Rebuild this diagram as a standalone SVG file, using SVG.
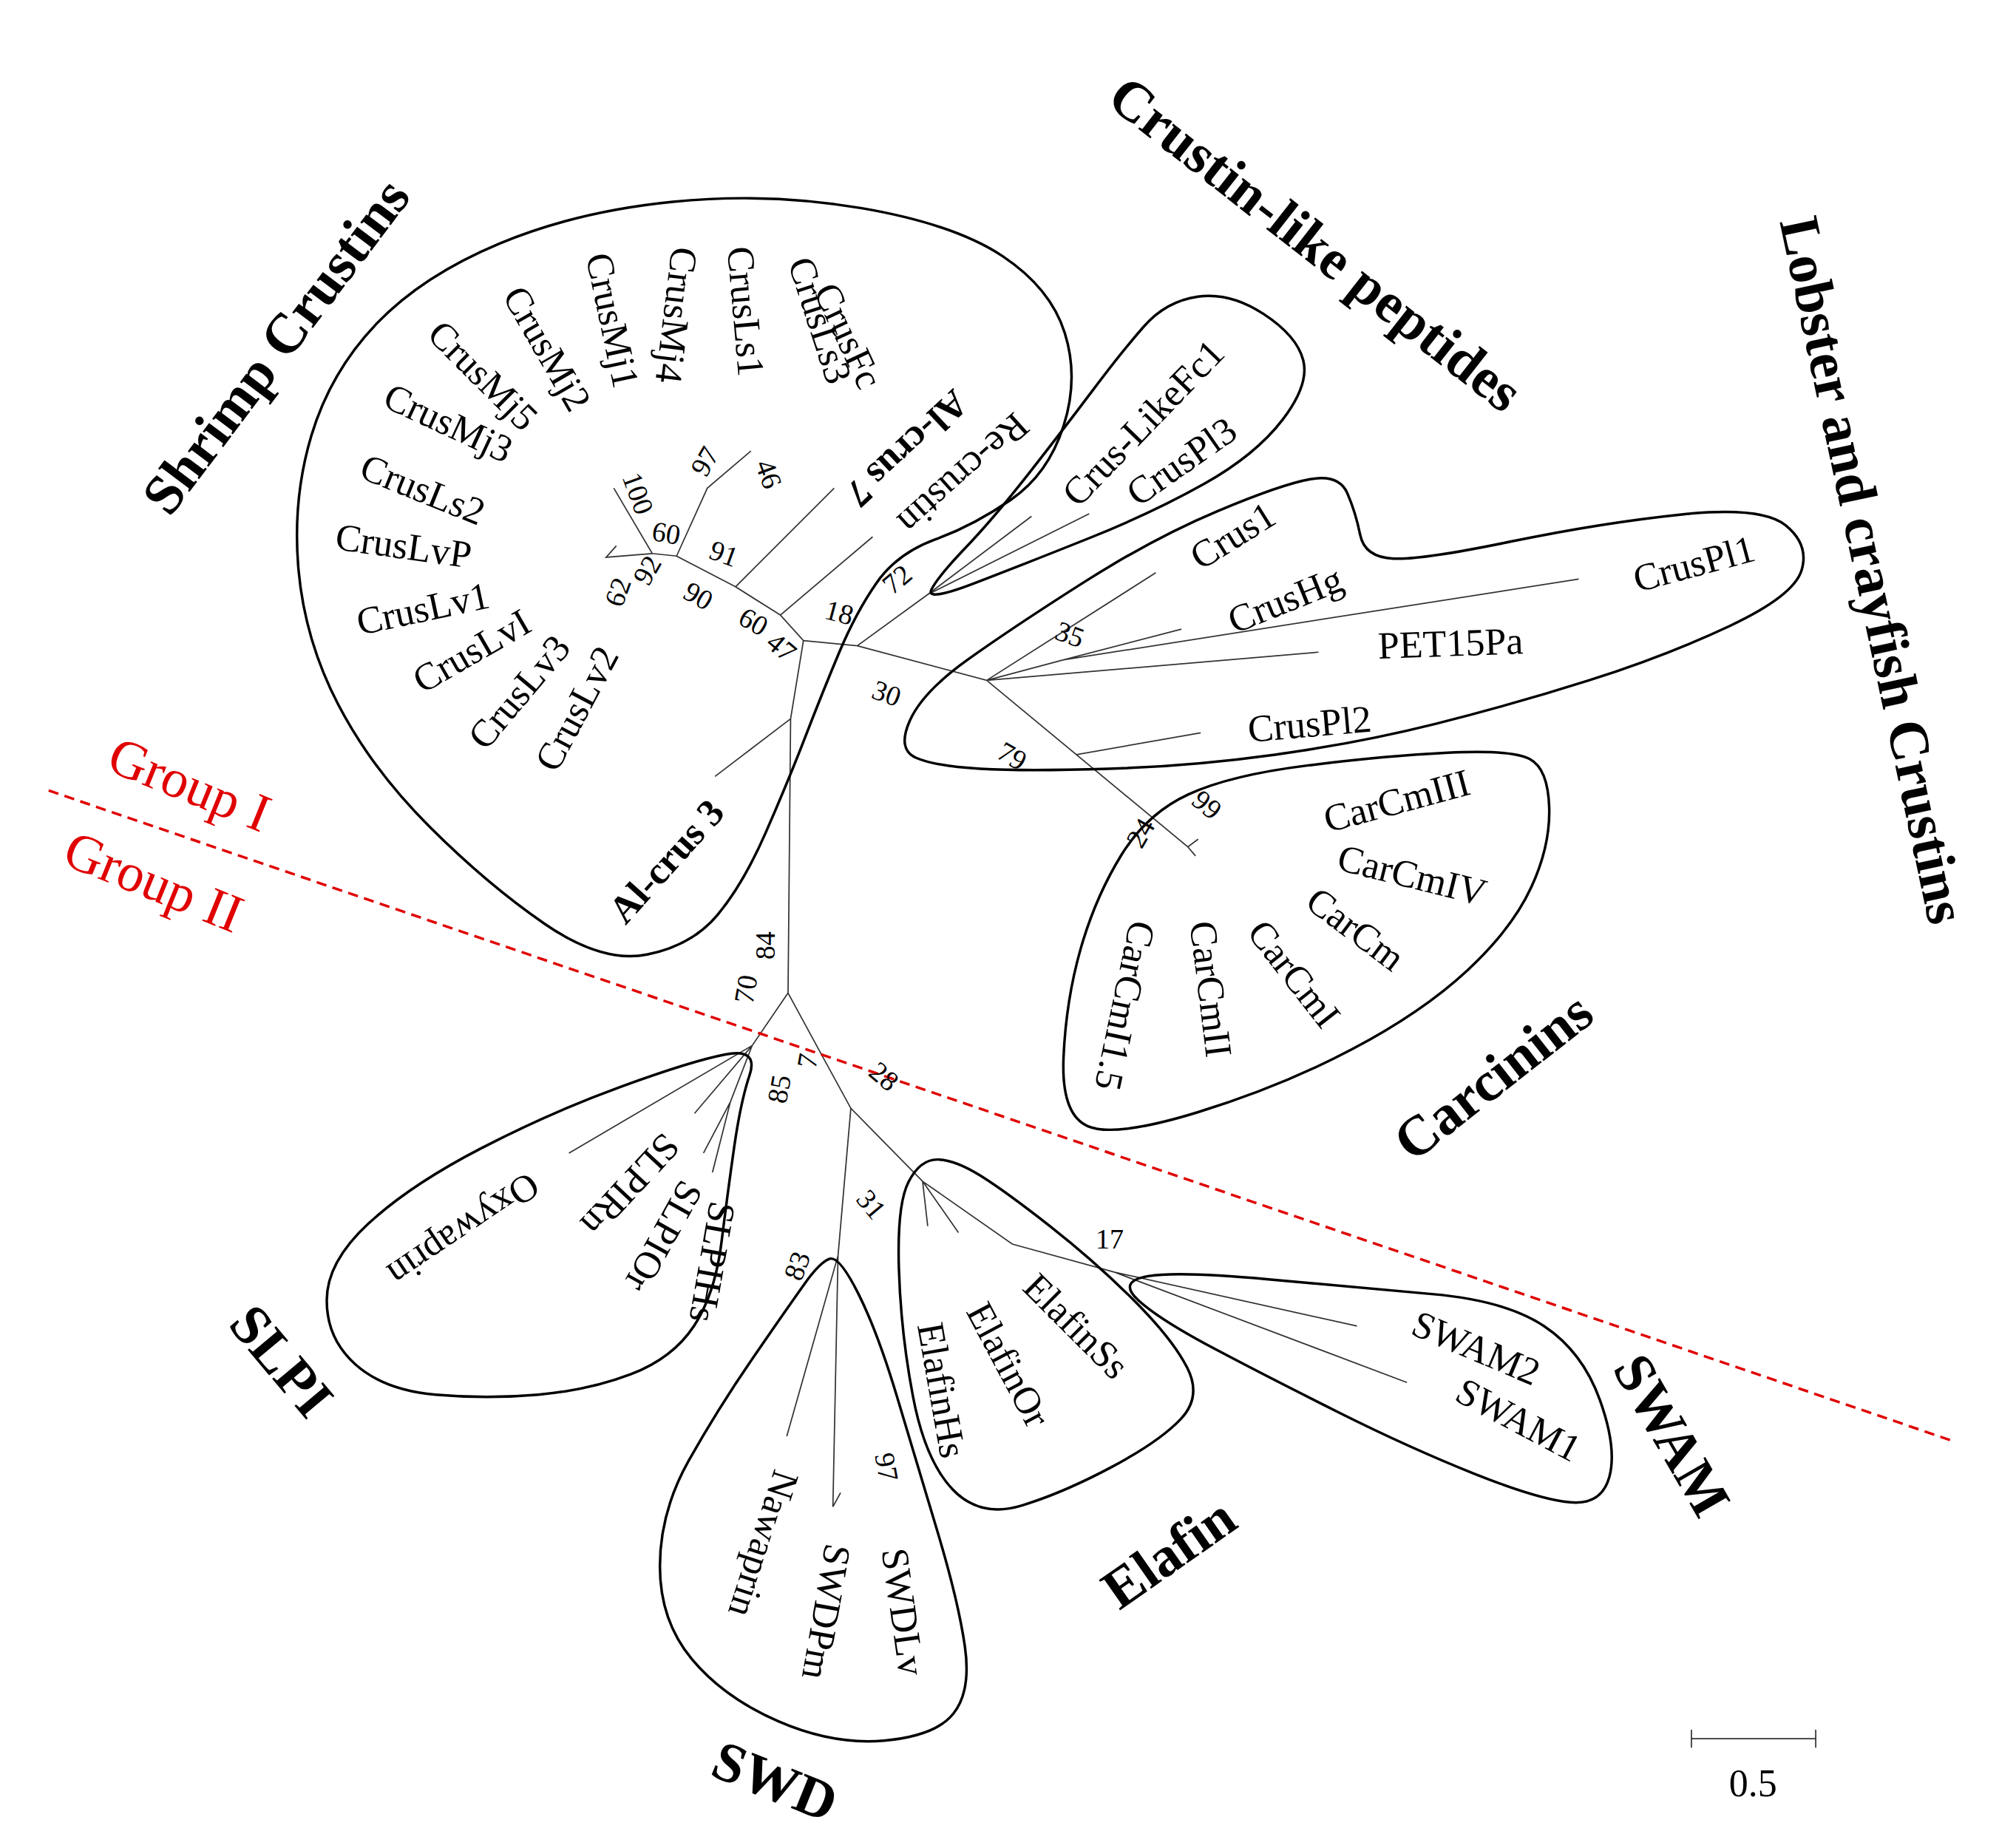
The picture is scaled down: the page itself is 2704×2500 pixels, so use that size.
<svg xmlns="http://www.w3.org/2000/svg" width="2704" height="2500" viewBox="0 0 2704 2500">
<style>
.h{fill:none;stroke:#000;stroke-width:2}
.t{stroke:#333;stroke-width:1;fill:none}
.l{font-family:"Liberation Serif",serif;font-size:30px;fill:#000;text-anchor:middle;dominant-baseline:central}
.b{font-family:"Liberation Serif",serif;font-size:22px;fill:#000;text-anchor:middle;dominant-baseline:central}
.k{font-family:"Liberation Serif",serif;font-size:44px;font-weight:bold;fill:#000;text-anchor:middle;dominant-baseline:central}
.kb{font-family:"Liberation Serif",serif;font-size:30px;font-weight:bold;fill:#000;text-anchor:middle;dominant-baseline:central}
.r{font-family:"Liberation Serif",serif;font-size:42px;fill:#e00000;text-anchor:middle;dominant-baseline:central}
</style>
<rect width="2704" height="2500" fill="#fff"/>
<g transform="scale(1.7333)">
<g id="connectors">
<path class="t" d="M615,775L617,561L627,500M617,561L558,606M627,500L609,480L681,419M609,480L574,458L651,381M574,458L528,434L552,381L586,352M528,434L509,432L479,381M509,432L473,435L481,426M627,500L669,504L724,464L805,403M724,464L850,401M669,504L770,531L902,447M770,531L830,515L922,491M830,515L1232,452M770,531L1029,509M770,531L927,661L935,655M927,661L933,668M840,589L937,572"/>
<path class="t" d="M615,775L587,816L444,900M587,816L542,869M587,816L570,860L549,900M570,860L556,915M615,775L640,821L664,865L720,922M664,865L654,980L650,1176L656,1165M654,980L614,1121M720,922L724,957M720,922L748,962M720,922L790,971L870,993L1059,1035M870,993L1098,1079"/>
<line x1="38" y1="617" x2="1525" y2="1125" stroke="#e00000" stroke-width="2" stroke-dasharray="8,5"/>
</g>
<g id="shrimp">
<path class="h" d="M505,745 Q470,752 425,721 Q380,690 335,645 Q290,600 264,550 Q238,500 233,445 Q228,390 243,340 Q258,290 294,252.5 Q330,215 390,190 Q450,165 525,157.5 Q600,150 672.5,162.5 Q745,175 782.5,200 Q820,225 831,260 Q842,295 830,332.5 Q818,370 789,390 Q760,410 730,421 Q700,432 684,455 Q668,478 655,509 Q642,540 628.5,575 Q615,610 597.5,650 Q580,690 560,714 Q540,738 505,745 Z"/>
<text class="k" transform="translate(215,270) rotate(-53)">Shrimp Crustins</text>
<text class="l" transform="translate(662,262) rotate(65)">CrusFc</text>
<text class="l" transform="translate(640,250) rotate(72)">CrusLs3</text>
<text class="l" transform="translate(582,243) rotate(85)">CrusLs1</text>
<text class="l" transform="translate(528,246) rotate(97)">CrusMj4</text>
<text class="l" transform="translate(478,250) rotate(78)">CrusMj1</text>
<text class="l" transform="translate(427,272) rotate(60)">CrusMj2</text>
<text class="l" transform="translate(377,293) rotate(45)">CrusMj5</text>
<text class="l" transform="translate(350,330) rotate(25)">CrusMj3</text>
<text class="l" transform="translate(330,382) rotate(22)">CrusLs2</text>
<text class="l" transform="translate(315,426) rotate(8)">CrusLvP</text>
<text class="l" transform="translate(330,475) rotate(-12)">CrusLv1</text>
<text class="l" transform="translate(368,508) rotate(-30)">CrusLvI</text>
<text class="l" transform="translate(405,540) rotate(-50)">CrusLv3</text>
<text class="l" transform="translate(450,553) rotate(-62)">CrusLv2</text>
<text class="kb" transform="translate(708,350) rotate(137)">Al-crus 7</text>
<text class="l" transform="translate(752,370) rotate(138)">Re-crustin</text>
<text class="kb" transform="translate(520,672) rotate(-48)">Al-crus 3</text>
</g>
<g id="crustinlike">
<path class="h" d="M727,460 Q722,470 761,455 Q800,440 850,420 Q900,400 940,377.5 Q980,355 1001,327.5 Q1022,300 1017,281 Q1012,262 986,245 Q960,228 935,231.5 Q910,235 892.5,255 Q875,275 852.5,305 Q830,335 802.5,370 Q775,405 753.5,427.5 Q732,450 727,460 Z"/>
<text class="k" transform="translate(1027,190) rotate(38)">Crustin-like peptides</text>
<text class="l" transform="translate(892,330) rotate(-46)">Crus-LikeFc1</text>
<text class="l" transform="translate(922,360) rotate(-35)">CrusPl3</text>
</g>
<g id="lobster">
<path class="h" d="M715,591.5 Q700,585 710,562.5 Q720,540 755,515 Q790,490 845,455 Q900,420 950,399 Q1000,378 1022.5,374 Q1045,370 1051.5,385 Q1058,400 1061.5,417.5 Q1065,435 1087.5,436 Q1110,437 1180,422.5 Q1250,408 1312.5,401.5 Q1375,395 1393.5,410 Q1412,425 1406,445 Q1400,465 1350,488.5 Q1300,512 1240,531 Q1180,550 1120,565 Q1060,580 995,589 Q930,598 865,600 Q800,602 765,600 Q730,598 715,591.5 Z"/>
<text class="k" transform="translate(1462,445) rotate(78)">Lobster and crayfish Crustins</text>
<text class="l" transform="translate(962,418) rotate(-32)">Crus1</text>
<text class="l" transform="translate(1003,468) rotate(-22)">CrusHg</text>
<text class="l" transform="translate(1132,502) rotate(-2)">PET15Pa</text>
<text class="l" transform="translate(1322,440) rotate(-15)">CrusPl1</text>
<text class="l" transform="translate(1022,565) rotate(-5)">CrusPl2</text>
</g>
<g id="carcinins">
<path class="h" d="M830,825 Q828,870 849,879 Q870,888 935,868 Q1000,848 1055,819 Q1110,790 1145,757.5 Q1180,725 1195,692.5 Q1210,660 1209,630 Q1208,600 1194,592.5 Q1180,585 1130,587.5 Q1080,590 1020,597.5 Q960,605 927.5,620 Q895,635 875,667.5 Q855,700 843.5,740 Q832,780 830,825 Z"/>
<text class="k" transform="translate(1165,840) rotate(-38)">Carcinins</text>
<text class="l" transform="translate(1090,625) rotate(-15)">CarCmIII</text>
<text class="l" transform="translate(1102,683) rotate(14)">CarCmIV</text>
<text class="l" transform="translate(1058,725) rotate(37)">CarCm</text>
<text class="l" transform="translate(1010,760) rotate(52)">CarCmI</text>
<text class="l" transform="translate(945,772) rotate(83)">CarCmII</text>
<text class="l" transform="translate(878,785) rotate(102)">CarCmI1.5</text>
</g>
<g id="slpi">
<path class="h" d="M585,839 Q592,818 566,823 Q540,828 485,848 Q430,868 375,896.5 Q320,925 287.5,955 Q255,985 255,1015 Q255,1045 277.5,1065 Q300,1085 340,1088.5 Q380,1092 420,1088.5 Q460,1085 492.5,1072.5 Q525,1060 541.5,1035 Q558,1010 563,970 Q568,930 573,895 Q578,860 585,839 Z"/>
<text class="k" transform="translate(220,1062) rotate(50)">SLPI</text>
<text class="l" transform="translate(362,960) rotate(146)">Oxywaprin</text>
<text class="l" transform="translate(492,925) rotate(133)">SLPIRn</text>
<text class="l" transform="translate(518,965) rotate(119)">SLPIOr</text>
<text class="l" transform="translate(556,985) rotate(100)">SLPIHs</text>
</g>
<g id="swd">
<path class="h" d="M647.5,982.5 Q655,980 670,1010 Q685,1040 700,1090 Q715,1140 731.5,1195 Q748,1250 753,1285 Q758,1320 744,1337.5 Q730,1355 690,1358.5 Q650,1362 607.5,1343.5 Q565,1325 540,1295 Q515,1265 515,1222.5 Q515,1180 537.5,1140 Q560,1100 587.5,1060 Q615,1020 627.5,1002.5 Q640,985 647.5,982.5 Z"/>
<text class="k" transform="translate(605,1390) rotate(22)">SWD</text>
<text class="l" transform="translate(596,1205) rotate(108)">Nawaprin</text>
<text class="l" transform="translate(645,1258) rotate(100)">SWDPm</text>
<text class="l" transform="translate(705,1258) rotate(82)">SWDLv</text>
</g>
<g id="elafin">
<path class="h" d="M731.5,905 Q718,905 709,922.5 Q700,940 701.5,990 Q703,1040 712.5,1090 Q722,1140 743.5,1162.5 Q765,1185 797.5,1175 Q830,1165 867.5,1145 Q905,1125 921.5,1107.5 Q938,1090 926.5,1067.5 Q915,1045 885,1015 Q855,985 820,957.5 Q785,930 765,917.5 Q745,905 731.5,905 Z"/>
<text class="k" transform="translate(912,1212) rotate(-35)">Elafin</text>
<text class="l" transform="translate(840,1035) rotate(45)">ElafinSs</text>
<text class="l" transform="translate(787,1065) rotate(62)">ElafinOr</text>
<text class="l" transform="translate(735,1085) rotate(80)">ElafinHs</text>
</g>
<g id="swam">
<path class="h" d="M888.5,1015 Q872,1000 896,996 Q920,992 990,998.5 Q1060,1005 1117.5,1010 Q1175,1015 1205,1035 Q1235,1055 1248.5,1092.5 Q1262,1130 1256,1152.5 Q1250,1175 1225,1172.5 Q1200,1170 1150,1150 Q1100,1130 1045,1102.5 Q990,1075 947.5,1052.5 Q905,1030 888.5,1015 Z"/>
<text class="k" transform="translate(1305,1120) rotate(60)">SWAM</text>
<text class="l" transform="translate(1152,1052) rotate(23)">SWAM2</text>
<text class="l" transform="translate(1185,1108) rotate(28)">SWAM1</text>
</g>
<g id="bootstrap">
<text class="b" transform="translate(550,360) rotate(-60)">97</text>
<text class="b" transform="translate(600,370) rotate(70)">46</text>
<text class="b" transform="translate(498,385) rotate(70)">100</text>
<text class="b" transform="translate(520,416) rotate(10)">60</text>
<text class="b" transform="translate(565,432) rotate(20)">91</text>
<text class="b" transform="translate(482,462) rotate(-70)">62</text>
<text class="b" transform="translate(505,445) rotate(-60)">92</text>
<text class="b" transform="translate(545,465) rotate(30)">90</text>
<text class="b" transform="translate(588,485) rotate(30)">60</text>
<text class="b" transform="translate(610,505) rotate(40)">47</text>
<text class="b" transform="translate(655,478) rotate(15)">18</text>
<text class="b" transform="translate(700,452) rotate(-40)">72</text>
<text class="b" transform="translate(692,541) rotate(20)">30</text>
<text class="b" transform="translate(835,495) rotate(20)">35</text>
<text class="b" transform="translate(790,590) rotate(30)">79</text>
<text class="b" transform="translate(942,628) rotate(40)">99</text>
<text class="b" transform="translate(890,650) rotate(-60)">24</text>
<text class="b" transform="translate(597,738) rotate(-90)">84</text>
<text class="b" transform="translate(582,772) rotate(-80)">70</text>
<text class="b" transform="translate(608,850) rotate(-80)">85</text>
<text class="b" transform="translate(630,828) rotate(-80)">7</text>
<text class="b" transform="translate(690,840) rotate(40)">28</text>
<text class="b" transform="translate(680,940) rotate(50)">31</text>
<text class="b" transform="translate(622,988) rotate(-70)">83</text>
<text class="b" transform="translate(866,967)">17</text>
<text class="b" transform="translate(692,1145) rotate(80)">97</text>
</g>
<g id="groups">
<text class="r" transform="translate(148,612) rotate(22)">Group I</text>
<text class="r" transform="translate(120,688) rotate(22)">Group II</text>
</g>
<g id="scale">
<path class="t" d="M1320,1357H1417M1320,1350V1364M1417,1350V1364" stroke-width="1.5"/>
<text class="l" x="1368" y="1392">0.5</text>
</g>
</g>
</svg>
